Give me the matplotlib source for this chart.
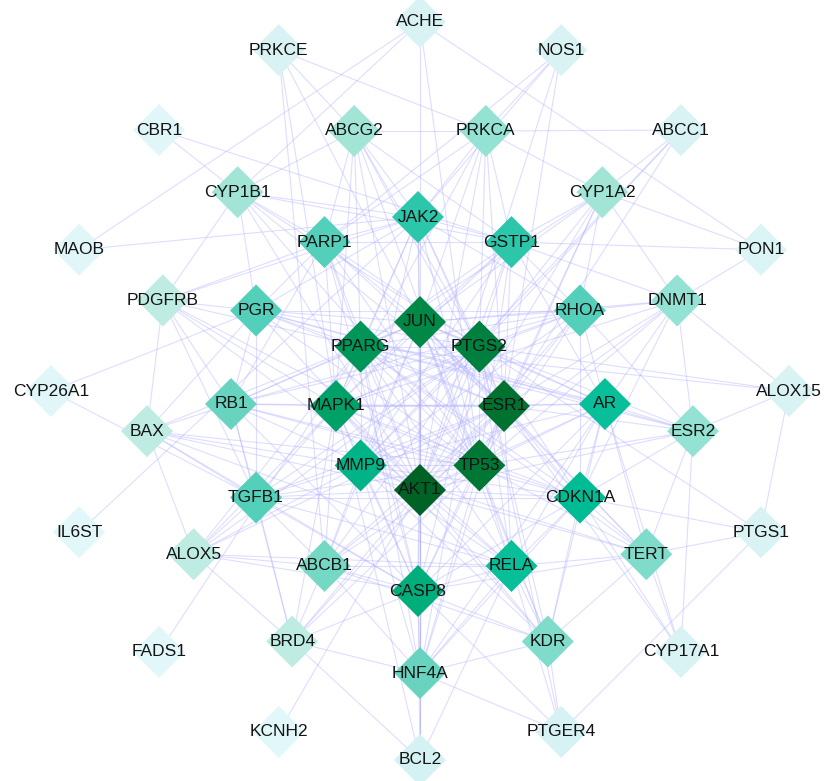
import numpy as np
import matplotlib
matplotlib.use("Agg")
import matplotlib.pyplot as plt
from matplotlib.collections import LineCollection

# ---- network data -------------------------------------------------------
# concentric shells, listed clockwise
shell_inner = ["JUN", "PTGS2", "ESR1", "TP53", "AKT1", "MMP9", "MAPK1", "PPARG"]
shell_mid = ["JAK2", "GSTP1", "RHOA", "AR", "CDKN1A", "RELA", "CASP8",
             "ABCB1", "TGFB1", "RB1", "PGR", "PARP1"]
shell_second = ["HNF4A", "BRD4", "ALOX5", "BAX", "PDGFRB", "CYP1B1", "ABCG2",
                "PRKCA", "CYP1A2", "DNMT1", "ESR2", "TERT", "KDR"]
shell_outer = ["ACHE", "NOS1", "ABCC1", "PON1", "ALOX15", "PTGS1", "CYP17A1",
               "PTGER4", "BCL2", "KCNH2", "FADS1", "IL6ST", "CYP26A1", "MAOB",
               "CBR1", "PRKCE"]

# interactions: each key is linked to every target listed after it
links = {
    "AKT1": "TP53 ESR1 JUN PTGS2 PPARG MAPK1 MMP9 CASP8 AR CDKN1A RELA JAK2 GSTP1 "
            "RHOA PARP1 PGR RB1 TGFB1 ABCB1 HNF4A BRD4 BAX PDGFRB PRKCA DNMT1 ESR2 "
            "TERT KDR ABCG2 CYP1A2 CYP1B1 BCL2 KCNH2 NOS1",
    "TP53": "ESR1 JUN PTGS2 PPARG MAPK1 MMP9 CASP8 AR CDKN1A RELA JAK2 GSTP1 RHOA "
            "PARP1 PGR RB1 TGFB1 ABCB1 HNF4A BRD4 BAX PDGFRB DNMT1 TERT KDR CYP1B1 "
            "ESR2 CYP1A2 ABCG2 ACHE",
    "ESR1": "JUN PTGS2 PPARG MAPK1 MMP9 CASP8 AR CDKN1A RELA JAK2 GSTP1 RHOA PARP1 "
            "PGR RB1 TGFB1 ABCB1 HNF4A ALOX5 CYP1B1 CYP1A2 DNMT1 ESR2 TERT ABCG2 "
            "PRKCA BRD4 NOS1 ABCC1 CYP17A1",
    "JUN": "PTGS2 PPARG MAPK1 MMP9 CASP8 AR CDKN1A RELA JAK2 GSTP1 RHOA PARP1 PGR "
           "RB1 ABCB1 HNF4A BAX PRKCA TERT KDR DNMT1 CYP1A2 ESR2 ACHE PRKCE BCL2",
    "PTGS2": "PPARG MAPK1 MMP9 CASP8 AR CDKN1A RELA JAK2 GSTP1 RHOA PARP1 PGR RB1 "
             "TGFB1 ABCB1 HNF4A ALOX5 CYP1A2 CYP1B1 PRKCA KDR ABCG2 ALOX15 PTGS1 "
             "PTGER4 ABCC1",
    "PPARG": "MAPK1 MMP9 CASP8 AR CDKN1A RELA JAK2 GSTP1 RHOA PARP1 PGR RB1 HNF4A "
             "ALOX5 CYP1A2 ABCG2 PDGFRB TERT ESR2 FADS1 ALOX15",
    "MAPK1": "MMP9 CASP8 AR CDKN1A RELA JAK2 GSTP1 RHOA PARP1 RB1 TGFB1 BRD4 PDGFRB "
             "PRKCA KDR ALOX5 DNMT1 PRKCE BCL2",
    "MMP9": "CASP8 AR CDKN1A RELA JAK2 GSTP1 RHOA TGFB1 ABCB1 HNF4A KDR TERT ALOX5 "
            "BAX ABCC1",
    "CASP8": "RELA ABCB1 CDKN1A TGFB1 RB1 AR PARP1 HNF4A BRD4 KDR BAX ALOX5 TERT "
             "BCL2 PTGER4",
    "AR": "CDKN1A RHOA GSTP1 RELA PGR ESR2 DNMT1 TERT KDR HNF4A CYP17A1",
    "CDKN1A": "RELA RB1 TGFB1 RHOA TERT KDR DNMT1 ESR2 HNF4A PTGS1 CYP17A1",
    "RELA": "ABCB1 TGFB1 HNF4A KDR TERT ALOX5 BAX PTGER4 BCL2",
    "JAK2": "GSTP1 PARP1 PGR RHOA ABCG2 PRKCA CYP1B1 PDGFRB MAOB IL6ST NOS1",
    "GSTP1": "RHOA PARP1 CYP1A2 PRKCA ABCG2 CYP1B1 DNMT1 CBR1 PON1",
    "RHOA": "PGR RB1 DNMT1 CYP1A2 ESR2",
    "PARP1": "PGR RB1 CYP1B1 ABCG2 PRKCA PDGFRB NOS1",
    "PGR": "RB1 TGFB1 PDGFRB BAX CYP1B1 ESR2 CYP26A1",
    "RB1": "TGFB1 BAX PDGFRB BRD4",
    "TGFB1": "ABCB1 BAX ALOX5 BRD4 PDGFRB CYP26A1",
    "ABCB1": "ALOX5 BRD4 HNF4A ABCG2 KDR PRKCE",
    "HNF4A": "BRD4 KDR BCL2 PTGER4",
    "BRD4": "ALOX5 BCL2",
    "ALOX5": "BAX",
    "BAX": "PDGFRB",
    "PDGFRB": "CYP1B1",
    "CYP1B1": "ABCG2 CBR1 ACHE",
    "ABCG2": "PRKCA PRKCE",
    "PRKCA": "CYP1A2 PRKCE ABCC1 NOS1",
    "CYP1A2": "DNMT1 ABCC1 PON1",
    "DNMT1": "ESR2 PON1 ALOX15",
    "ESR2": "TERT ALOX15 CYP17A1",
    "TERT": "KDR PTGS1 CYP17A1",
    "KDR": "PTGER4",
    "ACHE": "MAOB PON1",
    "PTGS1": "PTGER4 ALOX15",
}

# ---- concentric layout (pixel space) ------------------------------------
shells = [
    (shell_inner, 84, 420, 406, 90),
    (shell_mid, 187, 418, 404, 90),
    (shell_second, 275, 420, 398, 270),
    (shell_outer, 369, 420, 391, 90),
]
pos = {}
for names, r, cx, cy, start in shells:
    n = len(names)
    for i, name in enumerate(names):
        th = np.deg2rad(start - i * 360.0 / n)
        pos[name] = (cx + r * np.cos(th), cy - r * np.sin(th))

edges = []
for src, targets in links.items():
    for dst in targets.split():
        edges.append((src, dst))

degree = {name: 0 for name in pos}
for a, b in edges:
    degree[a] += 1
    degree[b] += 1

# degree -> fill colour
stop_deg = [1, 7, 11, 12, 13, 14, 16, 17, 19, 20, 21, 23, 25, 26, 29, 31, 32, 34]
stop_rgb = np.array([
    (226, 247, 250), (212, 241, 243), (190, 236, 227), (162, 229, 215),
    (148, 226, 211), (128, 220, 202), (104, 212, 191), (84, 207, 185),
    (44, 199, 170), (8, 191, 154), (0, 187, 147), (0, 174, 124),
    (0, 161, 104), (0, 150, 90), (0, 137, 70), (0, 119, 53), (0, 114, 48),
    (0, 98, 36),
]) / 255.0


def node_colour(d):
    return tuple(np.interp(d, stop_deg, stop_rgb[:, k]) for k in range(3))


# ---- drawing ------------------------------------------------------------
W, H, DPI = 827, 781, 100
fig = plt.figure(figsize=(W / DPI, H / DPI), dpi=DPI)
ax = fig.add_axes([0, 0, 1, 1])
ax.set_xlim(0, W)
ax.set_ylim(H, 0)
ax.axis("off")

segs = [[pos[a], pos[b]] for a, b in edges]
ax.add_collection(LineCollection(segs, colors="#b0b0ff", linewidths=0.8,
                                 alpha=0.42, zorder=1))

names = list(pos)
xs = [pos[n][0] for n in names]
ys = [pos[n][1] for n in names]
cols = [node_colour(degree[n]) for n in names]
diamond = [(0, 1), (1, 0), (0, -1), (-1, 0), (0, 1)]
size_pt = 52 * 72.0 / DPI
ax.scatter(xs, ys, s=size_pt ** 2, marker=diamond, c=cols, linewidths=0,
           zorder=2)

for n in names:
    ax.text(pos[n][0], pos[n][1], n, ha="center", va="center",
            fontsize=12.5, family=["Liberation Sans", "DejaVu Sans"],
            color="#141414", zorder=3)

fig.savefig("out.png", dpi=DPI)
